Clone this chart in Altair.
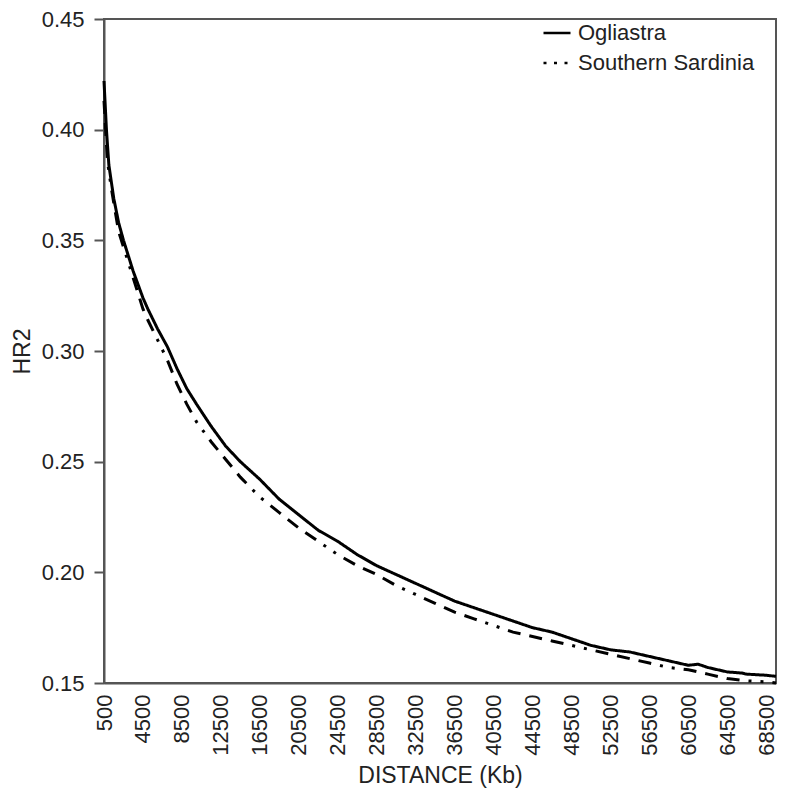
import altair as alt
import pandas as pd

# ---- data ----
series_names = ["Ogliastra", "Southern Sardinia"]

distance_og = [500, 750, 1000, 1500, 2000, 2500, 3000, 3500, 4000, 4500, 5000, 6000,
               7000, 8000, 9000, 10000, 11500, 13000, 14500, 16500, 18500, 20500,
               22500, 24500, 26500, 28500, 30500, 32500, 34500, 36500, 38500, 40500,
               42500, 44500, 46500, 48500, 50500, 52500, 54500, 56500, 58500, 60500,
               61500, 62500, 64500, 66000, 66500, 68500, 69500]
hr2_og = [0.422, 0.400, 0.384, 0.369, 0.358, 0.350, 0.343, 0.336, 0.330, 0.324, 0.319, 0.310,
          0.302, 0.292, 0.283, 0.276, 0.266, 0.257, 0.250, 0.242, 0.233, 0.226,
          0.219, 0.214, 0.208, 0.203, 0.199, 0.195, 0.191, 0.187, 0.184, 0.181,
          0.178, 0.175, 0.173, 0.170, 0.167, 0.165, 0.164, 0.162, 0.160, 0.158,
          0.1585, 0.157, 0.155, 0.1545, 0.154, 0.1535, 0.153]

distance_ss = [500, 850, 1200, 1500, 2000, 2500, 3000, 3500, 4000, 4500, 5000, 6000,
               7000, 8000, 9000, 10000, 11500, 13000, 14500, 16500, 18500, 20500,
               22500, 24500, 26500, 28500, 30500, 32500, 34500, 36500, 38500, 40500,
               42500, 44500, 46500, 48500, 50500, 52500, 54500, 56500, 58500, 60500,
               62500, 64500, 66500, 68500, 69500]
hr2_ss = [0.413, 0.386, 0.375, 0.367, 0.354, 0.347, 0.340, 0.333, 0.326, 0.319, 0.314, 0.305,
          0.296, 0.285, 0.276, 0.268, 0.259, 0.251, 0.243, 0.234, 0.227, 0.220,
          0.214, 0.208, 0.203, 0.199, 0.194, 0.190, 0.186, 0.182, 0.179, 0.176,
          0.173, 0.171, 0.169, 0.167, 0.165, 0.163, 0.161, 0.159, 0.157, 0.156,
          0.154, 0.152, 0.151, 0.1505, 0.150]

x_tick_values = [500, 4500, 8500, 12500, 16500, 20500, 24500, 28500, 32500,
                 36500, 40500, 44500, 48500, 52500, 56500, 60500, 64500, 68500]
y_tick_values = [0.15, 0.20, 0.25, 0.30, 0.35, 0.40, 0.45]

df = pd.concat([
    pd.DataFrame({"distance": distance_og, "hr2": hr2_og, "series": series_names[0]}),
    pd.DataFrame({"distance": distance_ss, "hr2": hr2_ss, "series": series_names[1]}),
], ignore_index=True)

FONT = "Liberation Sans"
AXIS_COLOR = "#555555"
TEXT_COLOR = "#222222"

x_enc = alt.X(
    "distance:Q",
    scale=alt.Scale(domain=[500, 69500], nice=False, zero=False),
    axis=alt.Axis(values=x_tick_values, tickCount=40, format="d", labelAngle=-90,
                  ticks=False, labelPadding=11, labelFontSize=22, labelFont=FONT,
                  labelColor=TEXT_COLOR, labelFlush=False, labelOverlap=False,
                  grid=False, domainColor=AXIS_COLOR, domainWidth=2,
                  title="DISTANCE (Kb)", titleFontSize=23, titleFont=FONT,
                  titleFontWeight="normal", titleColor=TEXT_COLOR, titlePadding=9),
)
y_enc = alt.Y(
    "hr2:Q",
    scale=alt.Scale(domain=[0.15, 0.45], nice=False, zero=False),
    axis=alt.Axis(values=y_tick_values, tickCount=20, format=".2f", tickSize=10,
                  tickWidth=2, tickColor=AXIS_COLOR, labelPadding=10, labelFontSize=22,
                  labelFont=FONT, labelColor=TEXT_COLOR, labelFlush=False, grid=False,
                  domainColor=AXIS_COLOR, domainWidth=2,
                  title="HR2", titleFontSize=23, titleFont=FONT,
                  titleFontWeight="normal", titleColor=TEXT_COLOR, titlePadding=7),
)

lines = alt.Chart(df).mark_line(color="black", strokeWidth=3).encode(
    x=x_enc,
    y=y_enc,
    strokeDash=alt.StrokeDash(
        "series:N",
        scale=alt.Scale(domain=series_names,
                        range=[[1, 0], [13, 9, 13, 9, 13, 9, 3, 9, 3, 9]]),
        legend=None,
    ),
)

legend_layer = alt.Chart(df).transform_calculate(
    legend_series="datum.series"
).mark_line(color="black", strokeWidth=2.6, opacity=0).encode(
    x="distance:Q",
    y="hr2:Q",
    strokeDash=alt.StrokeDash(
        "legend_series:N",
        scale=alt.Scale(domain=series_names, range=[[1, 0], [3, 7.5]]),
        legend=alt.Legend(
            title=None, orient="none", legendX=438, legendY=-1,
            symbolType="stroke", symbolSize=729, symbolStrokeWidth=2.6,
            symbolStrokeColor="black", symbolOpacity=1,
            labelFontSize=22, labelFont=FONT, labelColor=TEXT_COLOR,
            labelLimit=400, labelOffset=6, rowPadding=4, padding=0,
        ),
    ),
)

chart = alt.layer(lines, legend_layer).resolve_scale(
    strokeDash="independent"
).properties(
    width=672,
    height=664,
    padding={"left": 96, "top": 11, "right": 3, "bottom": 106},
    autosize=alt.AutoSizeParams(type="none"),
    background="white",
).configure_view(
    stroke=AXIS_COLOR, strokeWidth=2
)

chart.save("out.html", embed_options={"renderer": "svg", "actions": False})
